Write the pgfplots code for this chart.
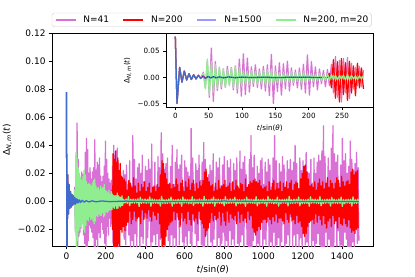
\documentclass[border=0pt]{standalone}
\usepackage{pgfplots}
\pgfplotsset{compat=1.18}
\usepackage{pgfplotstable}
\usepackage{fontspec}
\setmainfont{DejaVu Sans}
\definecolor{orchid}{RGB}{218,112,214}
\definecolor{lgreen}{RGB}{144,238,144}
\definecolor{legframe}{RGB}{204,204,204}

\pgfplotstableread{
t y
0 0.078
2.5 -0.050
6.5 0.019
10 -0.009
13.5 0.012
17 -0.005
20.5 0.007
24 -0.004
27.5 0.005
31 -0.003
34.5 0.004
38 -0.002
41.5 0.003
45 -0.002
49 0.002
53 -0.0012
57 0.0015
61 -0.001
66 0.001
72 -0.0008
80 0.0008
90 -0.0006
100 0.0005
115 -0.0004
130 0.0004
150 -0.0003
180 0.0003
220 -0.0002
300 0.0002
500 -0.0002
800 0.0002
1100 -0.0002
1485 0.0
}\bluetab

\pgfplotstableread{
t y
0 0.078
2.5 -0.050
6.5 0.019
10 -0.009
13.5 0.012
17 -0.005
20.5 0.007
24 -0.004
27.5 0.005
31 -0.003
34.5 0.004
38 -0.002
42 0.010
45 -0.020
48 0.031
51 -0.038
54 0.056
57 -0.046
60 0.030
63 -0.025
66 0.018
69 -0.022
72 0.015
75 -0.019
78 0.021
81 -0.014
84 0.019
87 -0.024
90 0.022
93 -0.030
96 0.035
99 -0.036
102 0.045
105 -0.033
108 0.037
111 -0.028
114 0.020
117 -0.017
120 0.024
123 -0.019
126 0.016
129 -0.022
132 0.021
135 -0.026
138 0.024
141 -0.035
144 0.044
147 -0.050
150 0.022
153 -0.027
156 0.028
159 -0.034
162 0.026
165 -0.022
168 0.031
171 -0.026
174 0.018
177 -0.015
180 0.014
183 -0.020
186 0.018
189 -0.023
192 0.025
195 -0.030
198 0.043
201 -0.034
204 0.030
207 -0.018
210 0.020
213 -0.024
216 0.016
219 -0.012
222 0.013
225 -0.018
228 0.015
231 -0.016
234 0.025
237 -0.030
240 0.040
243 -0.038
246 0.033
249 -0.047
252 0.036
255 -0.029
258 0.038
261 -0.041
264 0.027
267 -0.022
270 0.019
273 -0.016
276 0.021
279 -0.018
282 0.014
285 -0.016
289 0.022
293 -0.027
297 0.019
301 -0.031
305 0.026
309 -0.012
313 0.012
317 -0.024
321 0.029
325 -0.035
329 0.011
333 -0.028
337 0.047
341 -0.040
345 0.030
349 -0.023
353 0.016
357 -0.033
361 0.024
365 -0.010
369 0.027
373 -0.036
377 0.020
381 -0.025
385 0.033
389 -0.030
393 0.014
397 -0.011
401 0.025
405 -0.038
409 0.022
413 -0.026
417 0.030
421 -0.014
425 0.023
429 -0.034
433 0.041
437 -0.029
441 0.009
445 -0.024
449 0.028
453 -0.031
457 0.011
461 -0.023
465 0.032
469 -0.037
473 0.024
477 -0.027
481 0.049
485 -0.043
489 0.034
493 -0.030
497 0.023
501 -0.035
505 0.027
509 -0.012
513 0.031
517 -0.028
521 0.010
525 -0.032
529 0.025
533 -0.024
537 0.040
541 -0.033
545 0.012
549 -0.026
553 0.028
557 -0.036
561 0.037
565 -0.011
569 0.023
573 -0.031
577 0.026
581 -0.012
585 0.033
589 -0.029
593 0.010
597 -0.037
601 0.029
605 -0.025
609 0.024
613 -0.034
617 0.021
621 -0.021
625 0.018
629 -0.030
633 0.052
637 -0.041
641 0.031
645 -0.013
649 0.012
653 -0.023
657 0.027
661 -0.035
665 0.022
669 -0.028
673 0.033
677 -0.012
681 0.015
685 -0.031
689 0.028
693 -0.033
697 0.042
701 -0.038
705 0.030
709 -0.024
713 0.011
717 -0.032
721 0.019
725 -0.010
729 0.026
733 -0.029
737 0.022
741 -0.036
745 0.034
749 -0.027
753 0.010
757 -0.013
761 0.028
765 -0.033
769 0.024
773 -0.026
777 0.031
781 -0.038
785 0.011
789 -0.030
793 0.026
797 -0.022
801 0.032
805 -0.035
809 0.010
813 -0.028
817 0.029
821 -0.034
825 0.024
829 -0.021
833 0.030
837 -0.031
841 0.013
845 -0.027
849 0.027
853 -0.036
857 0.022
861 -0.014
865 0.031
869 -0.030
873 0.010
877 -0.033
881 0.036
885 -0.029
889 0.023
893 -0.024
897 0.028
901 -0.037
905 0.032
909 -0.011
913 0.019
917 -0.031
921 0.009
925 -0.035
929 0.030
933 -0.033
937 0.047
941 -0.042
945 0.024
949 -0.028
953 0.033
957 -0.022
961 0.011
965 -0.032
969 0.025
973 -0.030
977 0.020
981 -0.036
985 0.029
989 -0.013
993 0.031
997 -0.034
1001 0.012
1005 -0.027
1009 0.028
1013 -0.031
1017 0.021
1021 -0.014
1025 0.030
1029 -0.038
1033 0.026
1037 -0.029
1041 0.010
1045 -0.033
1049 0.031
1053 -0.022
1057 0.047
1061 -0.040
1065 0.029
1069 -0.031
1073 0.013
1077 -0.026
1081 0.027
1085 -0.034
1089 0.021
1093 -0.029
1097 0.032
1101 -0.012
1105 0.026
1109 -0.036
1113 0.010
1117 -0.030
1121 0.029
1125 -0.024
1129 0.023
1133 -0.032
1137 0.030
1141 -0.011
1145 0.022
1149 -0.035
1153 0.028
1157 -0.024
1161 0.040
1165 -0.037
1169 0.027
1173 -0.023
1177 0.009
1181 -0.033
1185 0.031
1189 -0.026
1193 0.022
1197 -0.036
1201 0.029
1205 -0.011
1209 0.024
1213 -0.031
1217 0.035
1221 -0.029
1225 0.021
1229 -0.034
1233 0.020
1237 -0.012
1241 0.030
1245 -0.032
1249 0.013
1253 -0.028
1257 0.031
1261 -0.036
1265 0.020
1269 -0.030
1273 0.028
1277 -0.023
1281 0.033
1285 -0.031
1289 0.029
1293 -0.034
1297 0.036
1301 -0.038
1305 0.054
1309 -0.045
1313 0.032
1317 -0.022
1321 0.011
1325 -0.033
1329 0.031
1333 -0.027
1337 0.022
1341 -0.035
1345 0.038
1349 -0.040
1353 0.054
1357 -0.044
1361 0.034
1365 -0.013
1369 0.028
1373 -0.032
1377 0.033
1381 -0.021
1385 0.013
1389 -0.037
1393 0.026
1397 -0.031
1401 0.045
1405 -0.039
1409 0.029
1413 -0.022
1417 0.034
1421 -0.027
1425 0.020
1429 -0.035
1433 0.025
1437 -0.033
1441 0.043
1445 -0.038
1449 0.030
1453 -0.029
1457 0.022
1461 -0.034
1465 0.027
1469 -0.013
1473 0.035
1477 -0.030
1481 0.024
1485 -0.028
}\pinktab

\pgfplotstableread{
t y
0 0.078
2.5 -0.050
6.5 0.019
10 -0.009
13.5 0.012
17 -0.005
20.5 0.007
24 -0.004
27.5 0.005
31 -0.003
34.5 0.004
38 -0.002
41.5 0.003
45 -0.002
49 0.002
53 -0.0012
57 0.0015
61 -0.001
66 0.001
72 -0.0008
80 0.0008
90 -0.0006
100 0.0005
115 -0.0004
130 0.0004
150 -0.0003
180 0.0003
220 -0.0002
228 0.000
231 0.008
234 -0.020
237 0.034
240 -0.040
243 0.030
246 -0.047
249 0.036
252 -0.033
255 0.028
258 -0.044
261 0.031
264 -0.030
267 0.022
270 -0.035
273 0.027
276 -0.020
279 0.018
282 -0.022
285 0.017
289 -0.018
293 0.016
297 -0.021
301 0.014
305 -0.017
309 0.008
313 -0.015
317 0.015
321 -0.007
325 0.013
329 -0.016
333 0.010
337 -0.013
341 0.017
345 -0.007
349 0.011
353 -0.014
357 0.006
361 -0.012
365 0.013
369 -0.011
373 0.007
377 -0.016
381 0.012
385 -0.006
389 0.010
393 -0.013
397 0.014
401 -0.008
405 0.007
409 -0.012
413 0.010
417 -0.006
421 0.013
425 -0.011
429 0.006
433 -0.014
437 0.010
441 -0.007
445 0.011
449 -0.010
453 0.007
457 -0.013
461 0.012
465 -0.008
469 0.010
473 -0.016
477 0.019
481 -0.026
485 0.029
489 -0.035
493 0.027
497 -0.031
501 0.020
505 -0.025
509 0.016
513 -0.020
517 0.012
521 -0.017
525 0.013
529 -0.015
533 0.009
537 -0.014
541 0.012
545 -0.007
549 0.010
553 -0.013
557 0.016
561 -0.008
565 0.012
569 -0.013
573 0.007
577 -0.018
581 0.013
585 -0.008
589 0.015
593 -0.014
597 0.007
601 -0.012
605 0.014
609 -0.016
613 0.010
617 -0.007
621 0.016
625 -0.013
629 0.008
633 -0.017
637 0.013
641 -0.009
645 0.015
649 -0.014
653 0.007
657 -0.012
661 0.013
665 -0.016
669 0.009
673 -0.007
677 0.014
681 -0.013
685 0.011
689 -0.016
693 0.015
697 -0.019
701 0.021
705 -0.025
709 0.023
713 -0.021
717 0.017
721 -0.019
725 0.014
729 -0.015
733 0.011
737 -0.008
741 0.012
745 -0.014
749 0.007
753 -0.010
757 0.013
761 -0.013
765 0.008
769 -0.012
773 0.015
777 -0.007
781 0.009
785 -0.017
789 0.011
793 -0.008
797 0.012
801 -0.014
805 0.015
809 -0.017
813 0.010
817 -0.007
821 0.011
825 -0.015
829 0.013
833 -0.009
837 0.007
841 -0.012
845 0.014
849 -0.013
853 0.008
857 -0.010
861 0.015
865 -0.016
869 0.011
873 -0.007
877 0.009
881 -0.015
885 0.013
889 -0.009
893 0.012
897 -0.014
901 0.007
905 -0.012
909 0.016
913 -0.015
917 0.010
921 -0.007
925 0.012
929 -0.013
933 0.014
937 -0.010
941 0.013
945 -0.019
949 0.015
953 -0.022
957 0.016
961 -0.024
965 0.014
969 -0.021
973 0.013
977 -0.018
981 0.015
985 -0.020
989 0.011
993 -0.015
997 0.009
1001 -0.013
1005 0.010
1009 -0.013
1013 0.011
1017 -0.015
1021 0.007
1025 -0.011
1029 0.014
1033 -0.013
1037 0.008
1041 -0.016
1045 0.013
1049 -0.011
1053 0.015
1057 -0.014
1061 0.008
1065 -0.009
1069 0.013
1073 -0.015
1077 0.009
1081 -0.012
1085 0.014
1089 -0.012
1093 0.007
1097 -0.014
1101 0.013
1105 -0.016
1109 0.010
1113 -0.008
1117 0.014
1121 -0.013
1125 0.009
1129 -0.015
1133 0.013
1137 -0.009
1141 0.015
1145 -0.014
1149 0.008
1153 -0.013
1157 0.012
1161 -0.016
1165 0.014
1169 -0.010
1173 0.013
1177 -0.015
1181 0.009
1185 -0.014
1189 0.016
1193 -0.018
1197 0.020
1201 -0.023
1205 0.025
1209 -0.025
1213 0.026
1217 -0.023
1221 0.021
1225 -0.018
1229 0.016
1233 -0.015
1237 0.011
1241 -0.014
1245 0.012
1249 -0.013
1253 0.010
1257 -0.016
1261 0.014
1265 -0.009
1269 0.008
1273 -0.015
1277 0.013
1281 -0.010
1285 0.016
1289 -0.013
1293 0.011
1297 -0.017
1301 0.014
1305 -0.010
1309 0.009
1313 -0.016
1317 0.013
1321 -0.019
1325 0.017
1329 -0.014
1333 0.010
1337 -0.012
1341 0.015
1345 -0.018
1349 0.013
1353 -0.010
1357 0.009
1361 -0.016
1365 0.013
1369 -0.014
1373 0.017
1377 -0.019
1381 0.015
1385 -0.011
1389 0.010
1393 -0.016
1397 0.018
1401 -0.017
1405 0.014
1409 -0.012
1413 0.011
1417 -0.016
1421 0.014
1425 -0.018
1429 0.015
1433 -0.013
1437 0.012
1441 -0.019
1445 0.021
1449 -0.022
1453 0.023
1457 -0.021
1461 0.019
1465 -0.023
1469 0.021
1473 -0.020
1477 0.022
1481 -0.019
}\redtab

\pgfplotstableread{
t y
0 0.078
2.5 -0.050
6.5 0.019
10 -0.009
13.5 0.012
17 -0.005
20.5 0.007
24 -0.004
27.5 0.005
31 -0.003
34.5 0.004
38 -0.002
42 0.008
45 -0.022
48 0.035
51 -0.034
54 0.031
57 -0.028
60 0.024
63 -0.021
66 0.020
69 -0.018
72 0.017
75 -0.019
78 0.015
81 -0.016
84 0.018
87 -0.020
90 0.022
93 -0.022
96 0.019
99 -0.017
102 0.014
105 -0.013
108 0.012
111 -0.014
114 0.013
117 -0.011
120 0.012
123 -0.013
126 0.011
129 -0.012
132 0.013
135 -0.014
138 0.015
141 -0.016
144 0.016
147 -0.014
150 0.011
153 -0.010
156 0.009
159 -0.011
162 0.010
165 -0.009
168 0.008
171 -0.010
174 0.011
177 -0.010
180 0.009
183 -0.008
186 0.010
189 -0.011
192 0.012
195 -0.010
198 0.008
201 -0.007
204 0.007
207 -0.008
210 0.006
213 -0.007
216 0.008
219 -0.006
222 0.005
225 -0.006
228 0.007
231 -0.006
234 0.005
237 -0.004
240 0.004
243 -0.005
246 0.004
249 -0.003
252 0.004
255 -0.005
258 0.006
261 -0.005
264 0.004
267 -0.003
270 0.003
273 -0.004
276 0.003
279 -0.003
282 0.004
285 -0.003
291 0.0015
297 -0.0012
303 0.0018
309 -0.0014
315 0.0034
321 -0.0031
327 0.0016
333 -0.0013
339 0.0017
345 -0.0013
351 0.0016
357 -0.0012
363 0.0019
369 -0.0036
375 0.0030
381 -0.0014
387 0.0015
393 -0.0012
399 0.0017
405 -0.0014
411 0.0016
417 -0.0012
423 0.0032
429 -0.0035
435 0.0018
441 -0.0013
447 0.0015
453 -0.0014
459 0.0012
465 -0.0016
471 0.0013
477 -0.0033
483 0.0036
489 -0.0015
495 0.0012
501 -0.0016
507 0.0013
513 -0.0015
519 0.0017
525 -0.0012
531 0.0031
537 -0.0034
543 0.0014
549 -0.0016
555 0.0012
561 -0.0014
567 0.0016
573 -0.0013
579 0.0015
585 -0.0035
591 0.0032
597 -0.0013
603 0.0016
609 -0.0012
615 0.0014
621 -0.0017
627 0.0013
633 -0.0015
639 0.0033
645 -0.0030
651 0.0016
657 -0.0014
663 0.0012
669 -0.0015
675 0.0017
681 -0.0013
687 0.0014
693 -0.0034
699 0.0036
705 -0.0014
711 0.0013
717 -0.0016
723 0.0012
729 -0.0015
735 0.0017
741 -0.0013
747 0.0032
753 -0.0035
759 0.0015
765 -0.0012
771 0.0016
777 -0.0014
783 0.0013
789 -0.0016
795 0.0014
801 -0.0031
807 0.0034
813 -0.0016
819 0.0012
825 -0.0014
831 0.0017
837 -0.0013
843 0.0015
849 -0.0012
855 0.0030
861 -0.0033
867 0.0014
873 -0.0015
879 0.0013
885 -0.0017
891 0.0012
897 -0.0014
903 0.0016
909 -0.0036
915 0.0031
921 -0.0013
927 0.0015
933 -0.0012
939 0.0016
945 -0.0014
951 0.0013
957 -0.0015
963 0.0033
969 -0.0032
975 0.0014
981 -0.0016
987 0.0012
993 -0.0013
999 0.0017
1005 -0.0015
1011 0.0013
1017 -0.0034
1023 0.0035
1029 -0.0012
1035 0.0016
1041 -0.0013
1047 0.0014
1053 -0.0017
1059 0.0012
1065 -0.0015
1071 0.0031
1077 -0.0034
1083 0.0013
1089 -0.0016
1095 0.0014
1101 -0.0012
1107 0.0015
1113 -0.0013
1119 0.0017
1125 -0.0033
1131 0.0036
1137 -0.0015
1143 0.0012
1149 -0.0014
1155 0.0016
1161 -0.0013
1167 0.0015
1173 -0.0012
1179 0.0032
1185 -0.0031
1191 0.0014
1197 -0.0016
1203 0.0013
1209 -0.0015
1215 0.0012
1221 -0.0014
1227 0.0016
1233 -0.0035
1239 0.0033
1245 -0.0013
1251 0.0015
1257 -0.0012
1263 0.0017
1269 -0.0014
1275 0.0013
1281 -0.0016
1287 0.0034
1293 -0.0032
1299 0.0012
1305 -0.0015
1311 0.0014
1317 -0.0013
1323 0.0016
1329 -0.0012
1335 0.0015
1341 -0.0033
1347 0.0030
1353 -0.0014
1359 0.0016
1365 -0.0013
1371 0.0012
1377 -0.0015
1383 0.0017
1389 -0.0014
1395 0.0031
1401 -0.0035
1407 0.0013
1413 -0.0016
1419 0.0014
1425 -0.0012
1431 0.0015
1437 -0.0013
1443 0.0016
1449 -0.0034
1455 0.0032
1461 -0.0014
1467 0.0012
1473 -0.0015
1479 0.0016
1485 -0.0013
}\greentab

\begin{document}
\begin{tikzpicture}
\useasboundingbox (0,0) rectangle (460.8pt,307.2pt);
\begin{axis}[
  at={(57.6pt,33.79pt)}, anchor=south west,
  scale only axis, width=357.12pt, height=236.54pt,
  xmin=-74, xmax=1559, ymin=-0.032, ymax=0.12,
  xtick={0,200,400,600,800,1000,1200,1400},
  xticklabels={0,200,400,600,800,1000,1200,1400},
  ytick={-0.02,0,0.02,0.04,0.06,0.08,0.10,0.12},
  yticklabels={−0.02,0.00,0.02,0.04,0.06,0.08,0.10,0.12},
  scaled y ticks=false,
  tick align=outside, tick pos=left,
  major tick length=3.5pt,
  tick style={black, line width=0.8pt},
  axis line style={line width=0.8pt},
  tick label style={font=\fontsize{10}{12}\selectfont},
  label style={font=\fontsize{10}{12}\selectfont},
  xlabel={\textit{t}/sin(\textit{θ})},
  ylabel={Δ\textsubscript{\textit{N},\,\textit{m}}(\textit{t})},
  every axis plot/.append style={line join=round},
  legend image code/.code={\draw[#1] (0pt,0pt) -- (22pt,0pt);},
  legend cell align=left,
  legend style={at={(0,1)}, anchor=south west, yshift=6.9pt,
    legend columns=4, draw=legframe, rounded corners=2pt, fill=white,
    inner xsep=3.3pt, inner ysep=3pt,
    font=\fontsize{10}{12}\selectfont,
    nodes={inner sep=0pt, text height=7.3pt, text depth=2pt},
    /tikz/every odd column/.append style={column sep=8pt},
    /tikz/every even column/.append style={column sep=15pt}},
]
\addlegendimage{orchid, line width=1.5pt}
\addlegendentry{N=41}
\addlegendimage{red, line width=1.5pt}
\addlegendentry{N=200}
\addlegendimage{blue, draw opacity=0.4, line width=1.5pt}
\addlegendentry{N=1500}
\addlegendimage{lgreen, line width=1.5pt}
\addlegendentry{N=200, m=20}
\addplot[orchid, line width=1.4pt, forget plot] table {\pinktab};
\addplot[red, line width=1.4pt, forget plot] table {\redtab};
\addplot[lgreen, line width=1.4pt, forget plot] table {\greentab};
\addplot[blue, draw opacity=0.55, line width=1.4pt, forget plot] table {\bluetab};
\end{axis}

\begin{axis}[
  at={(184.3pt,188.2pt)}, anchor=south west,
  scale only axis, width=230.4pt, height=82.1pt,
  axis background/.style={fill=white},
  xmin=-14, xmax=297, ymin=-0.057, ymax=0.0845,
  xtick={0,50,100,150,200,250},
  xticklabels={0,50,100,150,200,250},
  ytick={-0.05,0,0.05},
  yticklabels={−0.05,0.00,0.05},
  scaled y ticks=false,
  tick align=outside, tick pos=left,
  major tick length=3.5pt,
  tick style={black, line width=0.8pt},
  axis line style={line width=0.8pt},
  tick label style={font=\fontsize{8}{9.6}\selectfont},
  label style={font=\fontsize{8}{9.6}\selectfont},
  xlabel={\textit{t}/sin(\textit{θ})},
  ylabel={Δ\textsubscript{\textit{N},\,\textit{m}}(\textit{t})},
  every axis plot/.append style={line join=round},
]
\addplot[orchid, line width=1.4pt, restrict x to domain=-5:284] table {\pinktab};
\addplot[red, line width=1.4pt, restrict x to domain=-5:284] table {\redtab};
\addplot[lgreen, line width=1.4pt, restrict x to domain=-5:284] table {\greentab};
\addplot[blue, draw opacity=0.55, line width=1.4pt, restrict x to domain=-5:284] table {\bluetab};
\end{axis}
\end{tikzpicture}
\end{document}
